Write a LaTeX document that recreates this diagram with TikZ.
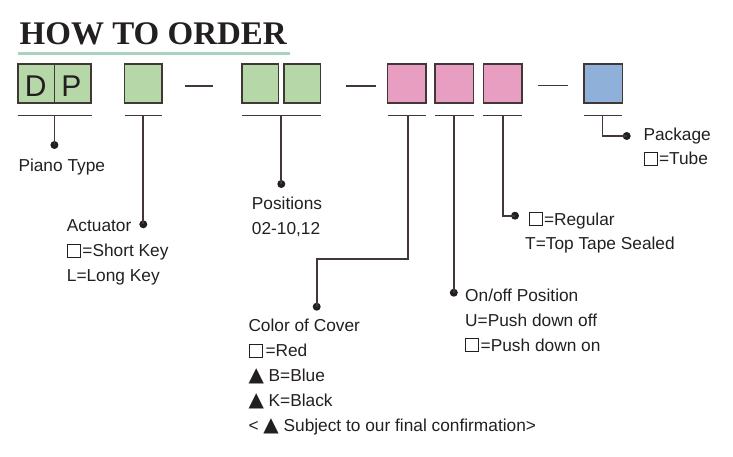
\documentclass[tikz,border=0pt]{standalone}
\usepackage{fontspec}
\setmainfont{Liberation Sans}
\newfontfamily\titlefont{Liberation Serif}
\newfontfamily\symfont{DejaVu Sans}
\definecolor{ink}{RGB}{35,31,32}
\definecolor{edge}{RGB}{66,55,55}
\definecolor{mint}{RGB}{168,212,190}
\definecolor{gfill}{RGB}{182,215,168}
\definecolor{pfill}{RGB}{232,158,192}
\definecolor{bfill}{RGB}{143,177,217}
\newcommand\sqmark{{\setlength{\fboxsep}{0pt}\setlength{\fboxrule}{1pt}\fbox{\rule{0pt}{12pt}\rule{12pt}{0pt}}}\kern1.5pt}
\newcommand\trimark{{\symfont\fontsize{20}{20}\selectfont ▲}}
\tikzset{
  cell/.style={draw=edge, line width=1.5pt, minimum width=37.5pt, minimum height=39pt, inner sep=0pt},
  lbl/.style={anchor=base west, inner sep=0pt, text=ink, font=\fontsize{17.3}{20}\selectfont},
  big/.style={anchor=base, inner sep=0pt, text=ink, font=\fontsize{30}{30}\selectfont},
  wire/.style={draw=edge, line width=1.7pt},
  dot/.style={circle, fill=ink, inner sep=0pt, minimum size=8pt},
}
\begin{document}
\begin{tikzpicture}[x=1pt,y=-1pt]
\useasboundingbox (0,0) rectangle (733,457);
% title
\node[anchor=base west, inner sep=0pt, text=ink, font=\titlefont\bfseries\fontsize{33}{33}\selectfont] (title) at (19.5,45) {HOW TO ORDER};
\coordinate (ulA) at (18.3,53.3);
\coordinate (ulB) at (290,53.3);
\draw[line width=3pt, mint] (ulA) -- (ulB);
% boxes
\node[cell, fill=gfill, minimum width=36.5pt] (bd) at (36.2,83.5) {};
\node[cell, fill=gfill, minimum width=36.5pt] (bp) at (72.7,83.5) {};
\node[big] (ld) at (35.8,96.7) {D};
\node[big] (lp) at (71.5,96.7) {P};
\node[cell, fill=gfill] (ba) at (143.3,83.5) {};
\node[cell, fill=gfill, minimum width=36.5pt] (bpos1) at (260.3,83.5) {};
\node[cell, fill=gfill, minimum width=36.5pt] (bpos2) at (302.3,83.5) {};
\node[cell, fill=pfill, minimum width=38.5pt] (bc) at (406.8,83.5) {};
\node[cell, fill=pfill, minimum width=38.5pt] (bo) at (454.2,83.5) {};
\node[cell, fill=pfill, minimum width=38.5pt] (br) at (502.8,83.5) {};
\node[cell, fill=bfill, minimum width=38.5pt] (bk) at (603.3,83.5) {};
% dashes
\coordinate (d1a) at (185,86); \coordinate (d1b) at (213,86);
\coordinate (d2a) at (345.7,86); \coordinate (d2b) at (375.7,86);
\coordinate (d3a) at (538.3,85.5); \coordinate (d3b) at (567.7,85.5);
\draw[wire] (d1a) -- (d1b);
\draw[wire] (d2a) -- (d2b);
\draw[wire] (d3a) -- (d3b);
% brackets
\coordinate (k1a) at (17.5,115.5); \coordinate (k1b) at (91.5,115.5); \coordinate (k1) at (54.4,115.5);
\coordinate (k2a) at (124.5,115.5); \coordinate (k2b) at (162,115.5); \coordinate (k2) at (143.3,115.5);
\coordinate (k3a) at (242,115.5); \coordinate (k3b) at (321,115.5); \coordinate (k3) at (281.3,115.5);
\coordinate (k4a) at (387.5,115.5); \coordinate (k4b) at (426,115.5); \coordinate (k4) at (407.7,115.5);
\coordinate (k5a) at (435,115.5); \coordinate (k5b) at (473.5,115.5); \coordinate (k5) at (453.8,115.5);
\coordinate (k6a) at (483.3,115.5); \coordinate (k6b) at (522.3,115.5); \coordinate (k6) at (502.8,115.5);
\coordinate (k7a) at (584,115.5); \coordinate (k7b) at (622,115.5); \coordinate (k7) at (602.5,115.5);
\foreach \k in {k1,k2,k3,k4,k5,k6,k7}{\draw[wire] (\k a) -- (\k b);}
% dots
\node[dot] (p1) at (54.4,145) {};
\node[dot] (p2) at (143.3,224.3) {};
\node[dot] (p3) at (281.3,184) {};
\node[dot] (p4) at (316.7,306.7) {};
\node[dot] (p5) at (453.8,292.7) {};
\node[dot] (p6) at (515,215.7) {};
\node[dot] (p7) at (626.7,136) {};
% connectors
\draw[wire] (k1) -- (p1.center);
\draw[wire] (k2) -- (p2.center);
\draw[wire] (k3) -- (p3.center);
\coordinate (c4a) at (407.7,259.3);
\draw[wire] (k4) -- (c4a) -| (p4.center);
\draw[wire] (k5) -- (p5.center);
\draw[wire] (k6) |- (p6.center);
\draw[wire] (k7) |- (p7.center);
% labels
\node[lbl] (t1) at (18.3,171.7) {Piano Type};
\node[lbl] (t2a) at (66.7,231.7) {Actuator};
\node[lbl] (t2b) at (66.7,256.7) {\sqmark=Short Key};
\node[lbl] (t2c) at (66.7,281.7) {L=Long Key};
\node[lbl] (t3a) at (251.7,209.3) {Positions};
\node[lbl] (t3b) at (251.7,234) {02-10,12};
\node[lbl] (t4a) at (248.3,331.7) {Color of Cover};
\node[lbl] (t4b) at (248.3,356.7) {\sqmark\kern1.5pt=Red};
\node[lbl] (t4c) at (248.3,381.7) {\trimark\ B=Blue};
\node[lbl] (t4d) at (248.3,406.3) {\trimark\ K=Black};
\node[lbl] (t4e) at (248.3,431.7) {< \trimark\ Subject to our final confirmation>};
\node[lbl] (t5a) at (465,301) {On/off Position};
\node[lbl] (t5b) at (465,326) {U=Push down off};
\node[lbl] (t5c) at (465,351) {\sqmark=Push down on};
\node[lbl] (t6a) at (528.3,225) {\sqmark=Regular};
\node[lbl] (t6b) at (525,249.3) {T=Top Tape Sealed};
\node[lbl] (t7a) at (643.3,140.7) {Package};
\node[lbl] (t7b) at (643.3,165) {\sqmark=Tube};
\end{tikzpicture}
\end{document}
